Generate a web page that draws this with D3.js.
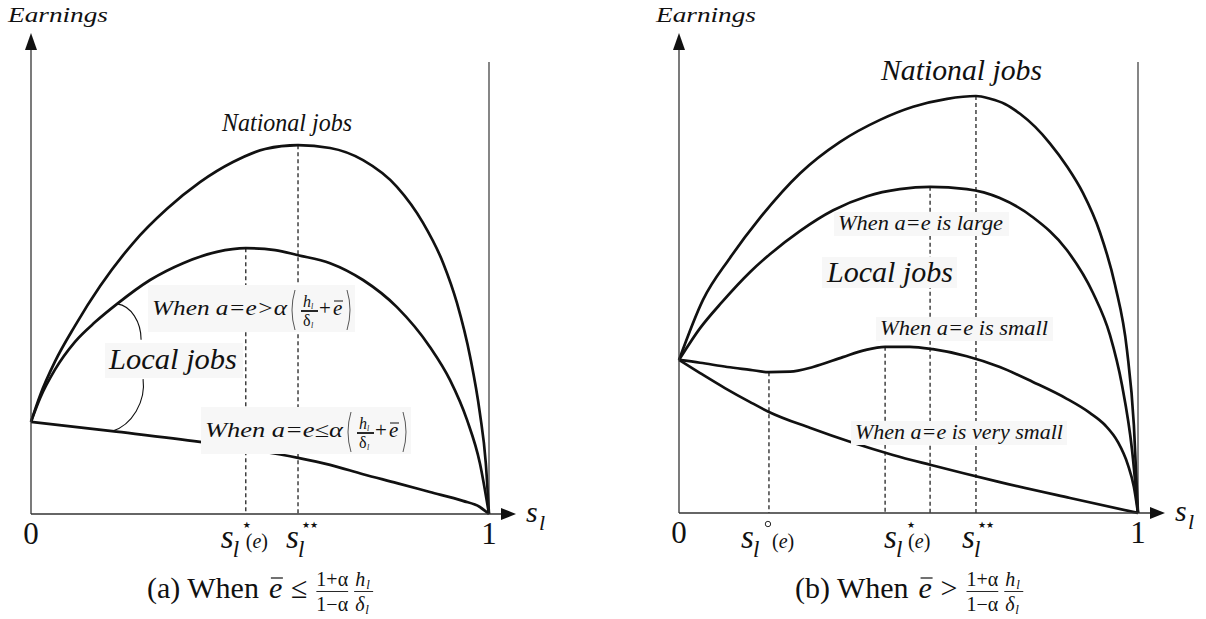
<!DOCTYPE html>
<html>
<head>
<meta charset="utf-8">
<script src="https://cdn.jsdelivr.net/npm/d3@7"></script>
<style>
  html, body { margin: 0; padding: 0; background: #fff; }
  svg { display: block; }
  text { font-family: "Liberation Serif", "Times New Roman", serif; fill: #111; }
</style>
</head>
<body>
<svg id="fig" width="1206" height="619"></svg>
<script>
// ---- Panel (a): earnings as a function of the local share s_l ----
// each curve is a list of [s_l, earnings] points (earnings on a 0..1 scale)
const aNational = [
  [0, 0.197], [0.020, 0.254], [0.052, 0.325], [0.096, 0.402], [0.151, 0.487],
  [0.223, 0.579], [0.297, 0.652], [0.369, 0.709], [0.441, 0.752], [0.511, 0.780],
  [0.583, 0.788], [0.653, 0.782], [0.725, 0.756], [0.799, 0.699], [0.856, 0.622],
  [0.900, 0.536], [0.930, 0.451], [0.959, 0.335], [0.980, 0.216], [0.993, 0.109], [1, 0]
];
const aLocalHigh = [
  [0, 0.197], [0.020, 0.248], [0.052, 0.308], [0.096, 0.368], [0.140, 0.410],
  [0.188, 0.449], [0.260, 0.500], [0.332, 0.536], [0.406, 0.560], [0.469, 0.568],
  [0.533, 0.564], [0.583, 0.553], [0.653, 0.536], [0.725, 0.500], [0.799, 0.442],
  [0.871, 0.357], [0.915, 0.286], [0.952, 0.201], [0.980, 0.109], [1, 0]
];
const aLocalLow = [
  [0, 0.197], [0.177, 0.177], [0.369, 0.154], [0.469, 0.139], [0.583, 0.120],
  [0.653, 0.105], [0.725, 0.085], [0.799, 0.066], [0.871, 0.047], [0.943, 0.028],
  [0.980, 0.015], [1, 0]
];
const aMarkers = [0.469, 0.583];               // s_l*(e), s_l**

// ---- Panel (b) ----
const bNational = [
  [0, 0.327], [0.052, 0.455], [0.111, 0.545], [0.176, 0.630], [0.264, 0.726],
  [0.351, 0.793], [0.438, 0.840], [0.510, 0.868], [0.584, 0.885], [0.647, 0.891],
  [0.678, 0.885], [0.710, 0.874], [0.743, 0.853], [0.776, 0.825], [0.808, 0.790],
  [0.845, 0.741], [0.880, 0.684], [0.917, 0.600], [0.950, 0.487], [0.976, 0.348],
  [0.991, 0.188], [1, 0]
];
const bLocalLarge = [
  [0, 0.327], [0.046, 0.395], [0.094, 0.451], [0.155, 0.515], [0.198, 0.553],
  [0.264, 0.603], [0.336, 0.647], [0.410, 0.677], [0.481, 0.692], [0.547, 0.697],
  [0.627, 0.692], [0.699, 0.673], [0.771, 0.632], [0.845, 0.562], [0.902, 0.470],
  [0.939, 0.380], [0.965, 0.274], [0.987, 0.135], [1, 0]
];
const bLocalSmall = [
  [0, 0.327], [0.046, 0.321], [0.105, 0.312], [0.155, 0.306], [0.196, 0.301],
  [0.242, 0.302], [0.292, 0.312], [0.357, 0.333], [0.405, 0.348], [0.449, 0.355],
  [0.503, 0.355], [0.553, 0.350], [0.627, 0.335], [0.699, 0.312], [0.771, 0.280],
  [0.845, 0.244], [0.895, 0.214], [0.928, 0.188], [0.956, 0.152], [0.978, 0.103],
  [0.991, 0.056], [1, 0]
];
const bLocalVerySmall = [
  [0, 0.327], [0.046, 0.299], [0.100, 0.267], [0.155, 0.237], [0.196, 0.216],
  [0.285, 0.182], [0.379, 0.150], [0.466, 0.124], [0.547, 0.103], [0.699, 0.066],
  [0.852, 0.032], [1, 0]
];
const bMarkers = [0.196, 0.449, 0.547, 0.647]; // s_l°(e), s_l*(e), peak of large case, s_l**

// axis end labels
const endLabels = ["0", "1"];

// ---------------------------------------------------------------
const svg = d3.select("#fig");
const INK = "#111";

function txt(g, x, y, str, size, opt = {}) {
  const t = g.append("text").attr("x", x).attr("y", y)
    .attr("font-size", size).text(str);
  if (opt.italic) t.attr("font-style", "italic");
  if (opt.anchor) t.attr("text-anchor", opt.anchor);
  if (opt.len) t.attr("textLength", opt.len).attr("lengthAdjust", "spacingAndGlyphs");
  if (opt.family) t.style("font-family", opt.family);
  return t;
}
function box(g, x, y, w, h) {
  g.append("rect").attr("x", x).attr("y", y).attr("width", w).attr("height", h)
    .attr("fill", "#f7f7f7");
}
function valueAt(curve, s) {
  return curve.find(p => p[0] === s)[1];
}

function makePanel(left, right, base) {
  const x = d3.scaleLinear().domain([0, 1]).range([left, right]);
  const y = d3.scaleLinear().domain([0, 1]).range([base, base - 468]);
  const g = svg.append("g");
  const gDash = g.append("g"), gCurve = g.append("g"), gAxis = g.append("g"), gLab = g.append("g");

  // axes with arrow heads
  gAxis.append("line").attr("x1", x(0)).attr("x2", x(0)).attr("y1", y(0)).attr("y2", 50)
    .attr("stroke", "#333").attr("stroke-width", 1.3);
  gAxis.append("path").attr("d", `M${x(0) - 6},50 L${x(0) + 6},50 L${x(0)},33 Z`).attr("fill", INK);
  gAxis.append("line").attr("x1", x(0)).attr("x2", x(1) + 13).attr("y1", y(0)).attr("y2", y(0))
    .attr("stroke", "#333").attr("stroke-width", 1.3);
  gAxis.append("path")
    .attr("d", `M${x(1) + 12},${y(0) - 6} L${x(1) + 12},${y(0) + 6} L${x(1) + 27},${y(0)} Z`)
    .attr("fill", INK);
  gAxis.append("line").attr("x1", x(1)).attr("x2", x(1)).attr("y1", 62).attr("y2", y(0))
    .attr("stroke", "#222").attr("stroke-width", 1.1);

  // axis titles
  txt(gLab, x(0) - 23, 22, "Earnings", 22, { italic: true, len: 100 });
  txt(gLab, x(1) + 37, y(0) + 8, "s", 30, { italic: true });
  txt(gLab, x(1) + 50, y(0) + 16, "l", 22, { italic: true });

  // 0 and 1
  txt(gLab, x(0), y(0) + 30, endLabels[0], 31, { anchor: "middle" });
  txt(gLab, x(1), y(0) + 30, endLabels[1], 31, { anchor: "middle" });

  const line = d3.line().x(d => x(d[0])).y(d => y(d[1])).curve(d3.curveMonotoneX);
  function curve(data) {
    gCurve.append("path").attr("d", line(data)).attr("fill", "none")
      .attr("stroke", INK).attr("stroke-width", 2.7).attr("stroke-linejoin", "round");
  }
  function marker(s, curveData) {
    gDash.append("line").attr("x1", x(s)).attr("x2", x(s))
      .attr("y1", y(valueAt(curveData, s))).attr("y2", y(0))
      .attr("stroke", INK).attr("stroke-width", 1.2).attr("stroke-dasharray", "4,3");
  }
  return { x, y, g, gLab, curve, marker };
}

// tick label of the form s_l with a mark above and an optional (e)
function sTick(g, sx, by, mark, markDx, argDx) {
  txt(g, sx, by, "s", 33, { italic: true });
  txt(g, sx + 12, by + 9, "l", 23, { italic: true });
  if (mark === "circle") {
    g.append("circle").attr("cx", sx + markDx).attr("cy", by - 24).attr("r", 2.7)
      .attr("fill", "none").attr("stroke", INK).attr("stroke-width", 0.9);
  } else {
    txt(g, sx + markDx, by - 20, mark, 9, { anchor: "middle", family: "DejaVu Sans" });
  }
  if (argDx != null) {
    const t = g.append("text").attr("x", sx + argDx).attr("y", by).attr("font-size", 20);
    t.append("tspan").text("(");
    t.append("tspan").attr("font-style", "italic").text("e");
    t.append("tspan").text(")");
  }
}

// "When a=e ≷ α( h_l/δ_l + ē )" label
function condLabel(g, x0, by, rel, mainLen) {
  box(g, x0 - 4, by - 30, mainLen + 72, 47);
  txt(g, x0, by, "When a=e" + rel + "α", 21, { italic: true, len: mainLen });
  const px = x0 + mainLen + 2;
  const paren = (xa, dir) => g.append("path")
    .attr("d", `M${xa},${by - 25} Q${xa - 6 * dir},${by - 5} ${xa},${by + 15}`)
    .attr("fill", "none").attr("stroke", "#444").attr("stroke-width", 0.9);
  paren(px + 6, 1);
  const fx = px + 12;
  txt(g, fx + 2, by - 8, "h", 16, { italic: true });
  txt(g, fx + 10, by - 6, "l", 8, { italic: true });
  g.append("line").attr("x1", fx).attr("x2", fx + 17).attr("y1", by - 4).attr("y2", by - 4)
    .attr("stroke", INK).attr("stroke-width", 1.8);
  txt(g, fx + 2, by + 11, "δ", 16);
  txt(g, fx + 10, by + 13, "l", 8, { italic: true });
  txt(g, fx + 18, by, "+", 21);
  txt(g, fx + 32, by, "e", 21, { italic: true });
  g.append("line").attr("x1", fx + 33).attr("x2", fx + 42).attr("y1", by - 14).attr("y2", by - 14)
    .attr("stroke", INK).attr("stroke-width", 1);
  paren(fx + 46, -1);
}

// caption "(x) When ē rel (1+α)/(1−α) h_l/δ_l"
function caption(g, x0, by, head, rel) {
  const t = txt(g, x0, by, head, 30);
  let cx = x0 + t.node().getComputedTextLength() + 10;
  txt(g, cx, by, "e", 30, { italic: true });
  g.append("line").attr("x1", cx + 2).attr("x2", cx + 14).attr("y1", by - 20).attr("y2", by - 20)
    .attr("stroke", INK).attr("stroke-width", 1.2);
  cx += 22;
  const r = txt(g, cx, by, rel, 30);
  cx += r.node().getComputedTextLength() + 9;
  const n = txt(g, cx, by - 12, "1+α", 20);
  const fw = n.node().getComputedTextLength();
  txt(g, cx, by + 13, "1−α", 20);
  g.append("line").attr("x1", cx).attr("x2", cx + fw).attr("y1", by - 6.5).attr("y2", by - 6.5)
    .attr("stroke", INK).attr("stroke-width", 0.9);
  cx += fw + 6;
  txt(g, cx + 1, by - 12, "h", 20, { italic: true });
  txt(g, cx + 12, by - 9, "l", 13, { italic: true });
  txt(g, cx + 1, by + 13, "δ", 20, { italic: true });
  txt(g, cx + 11, by + 16, "l", 13, { italic: true });
  g.append("line").attr("x1", cx).attr("x2", cx + 19).attr("y1", by - 6.5).attr("y2", by - 6.5)
    .attr("stroke", INK).attr("stroke-width", 0.9);
}

// ---------------- panel (a) ----------------
const A = makePanel(31, 489, 514);
A.marker(aMarkers[0], aLocalHigh);
A.marker(aMarkers[1], aNational);
A.curve(aNational);
A.curve(aLocalHigh);
A.curve(aLocalLow);

txt(A.gLab, 222, 131, "National jobs", 26, { italic: true, len: 130 });
condLabel(A.gLab, 152, 315, ">", 135);
condLabel(A.gLab, 205, 437, "≤", 138);
box(A.gLab, 105, 343, 138, 35);
txt(A.gLab, 109, 369, "Local jobs", 29, { italic: true, len: 128 });

// bracket tying "Local jobs" to the two local curves
{
  const p = [A.x(0.188), A.y(valueAt(aLocalHigh, 0.188))];
  A.gLab.append("path")
    .attr("d", `M${p[0]},${p[1]} C${p[0] + 14},${p[1] + 2} ${p[0] + 24},${p[1] + 18} ${p[0] + 24},${p[1] + 36}`)
    .attr("fill", "none").attr("stroke", INK).attr("stroke-width", 1.1);
  const q = [A.x(0.177), A.y(valueAt(aLocalLow, 0.177))];
  A.gLab.append("path")
    .attr("d", `M${q[0] + 31},${q[1] - 52} C${q[0] + 34},${q[1] - 30} ${q[0] + 20},${q[1] - 6} ${q[0]},${q[1]}`)
    .attr("fill", "none").attr("stroke", INK).attr("stroke-width", 1.1);
}

sTick(A.gLab, A.x(aMarkers[0]) - 25, 548, "★", 26, 25);
sTick(A.gLab, A.x(aMarkers[1]) - 12, 548, "★★", 24, null);
caption(A.gLab, 147, 598, "(a) When", "≤");

// ---------------- panel (b) ----------------
const B = makePanel(679, 1138, 513);
B.marker(bMarkers[0], bLocalSmall);
B.marker(bMarkers[1], bLocalSmall);
B.marker(bMarkers[2], bLocalLarge);
B.marker(bMarkers[3], bNational);
B.curve(bNational);
B.curve(bLocalLarge);
B.curve(bLocalSmall);
B.curve(bLocalVerySmall);

txt(B.gLab, 881, 80, "National jobs", 29, { italic: true, len: 161 });
box(B.gLab, 834, 212, 175, 24);
txt(B.gLab, 838, 230, "When a=e is large", 20, { italic: true, len: 165 });
box(B.gLab, 822, 257, 135, 31);
txt(B.gLab, 827, 282, "Local jobs", 29, { italic: true, len: 126 });
box(B.gLab, 876, 317, 177, 24);
txt(B.gLab, 880, 335, "When a=e is small", 20, { italic: true, len: 168 });
box(B.gLab, 851, 421, 216, 24);
txt(B.gLab, 855, 439, "When a=e is very small", 20, { italic: true, len: 208 });

sTick(B.gLab, B.x(bMarkers[0]) - 28, 548, "circle", 27, 31);
sTick(B.gLab, B.x(bMarkers[1]) - 1, 548, "★", 27, 24);
sTick(B.gLab, B.x(bMarkers[3]) - 14, 548, "★★", 24, null);
caption(B.gLab, 795, 598, "(b) When", ">");
</script>
</body>
</html>
